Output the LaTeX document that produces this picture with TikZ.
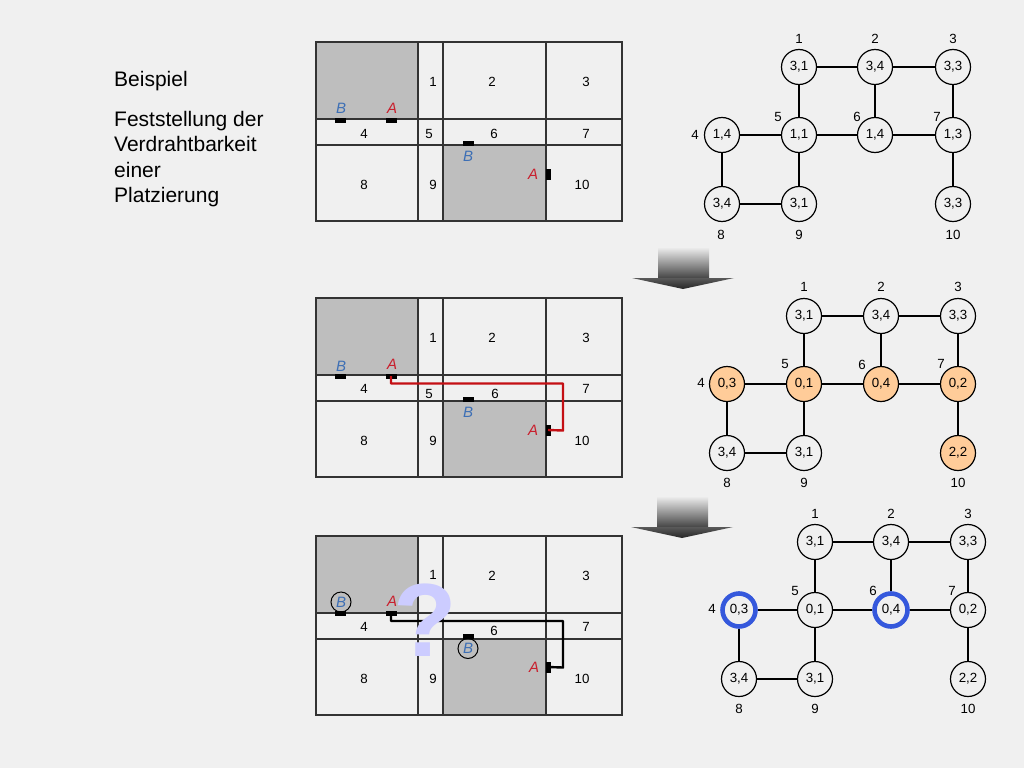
\documentclass[tikz,border=0pt]{standalone}
\usepackage{fontspec}
\setmainfont{Liberation Sans}
\definecolor{bgc}{HTML}{F0F0F0}
\definecolor{blockc}{HTML}{BEBEBE}
\definecolor{linec}{HTML}{333333}
\definecolor{redc}{HTML}{C9202E}
\definecolor{wirered}{HTML}{C40F14}
\definecolor{bluec}{HTML}{3D6FB5}
\definecolor{orangec}{HTML}{FFCC99}
\definecolor{ringc}{HTML}{3558DC}
\definecolor{qc}{HTML}{CCCCFF}
\tikzset{
  vert/.style={circle,draw=black,line width=1.2pt,fill=bgc,minimum size=35pt,inner sep=0pt,font=\fontsize{13.3}{15}\selectfont,text=black},
  hot/.style={fill=orangec},
  ring/.style={draw=ringc,line width=4.6pt,minimum size=33pt},
  edge/.style={draw=black,line width=1.2pt},
  num/.style={inner sep=0pt,font=\fontsize{13.3}{15}\selectfont,text=black},
  pinlab/.style={inner sep=0pt,font=\fontsize{15}{17}\selectfont\itshape},
  pina/.style={pinlab,text=redc},
  pinb/.style={pinlab,text=bluec},
  pinh/.style={fill=black,minimum width=11pt,minimum height=5pt,inner sep=0pt,outer sep=0pt,draw=none},
  pinv/.style={fill=black,minimum width=5pt,minimum height=11pt,inner sep=0pt,outer sep=0pt,draw=none},
  gridl/.style={draw=linec,line width=1.5pt},
  blockf/.style={fill=blockc,draw=none},
  hole/.style={circle,draw=black,line width=1pt,minimum size=20pt,inner sep=0pt},
  titletext/.style={anchor=base west,inner sep=0pt,font=\fontsize{21}{23}\selectfont,text=black},
  wire/.style={line width=2.4pt,line join=round}
}
% floor plan: #1 = top y
\newcommand{\floorplan}[1]{%
  \fill[blockf] (316,#1) rectangle (418,#1+77);
  \fill[blockf] (443,#1+103) rectangle (546,#1+179);
  \draw[gridl] (418,#1) -- (418,#1+179);
  \draw[gridl] (443,#1) -- (443,#1+179);
  \draw[gridl] (546,#1) -- (546,#1+179);
  \draw[gridl] (316,#1+77) -- (622,#1+77);
  \draw[gridl] (316,#1+103) -- (622,#1+103);
  \draw[draw=linec,line width=1.2pt] (316,#1) rectangle (622,#1+179);
}
\newcommand{\graphedges}[1]{%
  \foreach \a/\b in {1/2,2/3,1/5,2/6,3/7,4/5,5/6,6/7,4/8,5/9,7/10,8/9}
    \draw[edge] (#1n\a) -- (#1n\b);
}
\begin{document}
\begin{tikzpicture}[x=1pt,y=-1pt]
\useasboundingbox (0,0) rectangle (1024,768);
\fill[bgc] (0,0) rectangle (1024,768);

% title
\node[titletext] (t1) at (114,86) {Beispiel};
\node[titletext] (t2) at (114,126) {Feststellung der};
\node[titletext] (t3) at (114,151) {Verdrahtbarkeit};
\node[titletext] (t4) at (114,177) {einer};
\node[titletext] (t5) at (114,202) {Platzierung};

% ---------- plan 1
\floorplan{42}
\foreach \n/\x/\y in {1/433/82,2/492/82,3/586/82,4/364/134,5/429/134,6/494/134,7/586/134,8/364/185,9/433/185,10/582/185}
  \node[num] (pa\n) at (\x,\y) {\n};
\node[pinh] (pab) at (340,120) {};
\node[pinh] (paa) at (391,120) {};
\node[pinh] (pac) at (468,143) {};
\node[pinv] (pad) at (548,174) {};
\node[pinb] (pabl) at (341,108) {B};
\node[pina] (paal) at (392,108) {A};
\node[pinb] (pacl) at (468,156) {B};
\node[pina] (padl) at (533,174) {A};

% ---------- plan 2
\floorplan{298}
\foreach \n/\x/\y in {1/433/338,2/492/338,3/586/338,4/364/389,5/429/394,6/495/394,7/586/389,8/364/441,9/433/441,10/582/441}
  \node[num] (pb\n) at (\x,\y) {\n};
\node[pinh] (pbb) at (340,376) {};
\node[pinh] (pba) at (391,376) {};
\node[pinh] (pbc) at (468,399) {};
\node[pinv] (pbd) at (548,430) {};
\node[pinb] (pbbl) at (341,366) {B};
\node[pina] (pbal) at (392,364) {A};
\node[pinb] (pbcl) at (468,412) {B};
\node[pina] (pbdl) at (533,430) {A};
\coordinate (pbw1) at (563,383.5);
\coordinate (pbw2) at (563,430.5);
\draw[wire,wirered] (pba.center) |- (pbw1) -- (pbw2) -- (pbd.center);

% ---------- plan 3
\floorplan{536}
\foreach \n/\x/\y in {1/433/575,2/492/576,3/586/576,4/364/627,6/494/631,7/586/627,8/364/679,9/433/679,10/582/679}
  \node[num] (pc\n) at (\x,\y) {\n};
\node[pinh] (pcb) at (340,613.5) {};
\node[pinh] (pca) at (391,613.5) {};
\node[pinh] (pcc) at (468,636) {};
\node[pinv] (pcd) at (548,667) {};
\node[pinb,hole] (pcbl) at (341,602) {B};
\node[pina] (pcal) at (392,601) {A};
\node[pinb,hole] (pccl) at (468,648.5) {B};
\node[pina] (pcdl) at (534,667) {A};
\coordinate (pcw1) at (563,621);
\coordinate (pcw2) at (563,667.5);
\draw[wire,black] (pca.center) |- (pcw1) -- (pcw2) -- (pcd.center);
\node[inner sep=0pt,text=qc,font=\fontsize{104}{110}\selectfont\bfseries] (qm) at (425,620) {?};

% ---------- graph 1
\foreach \n/\x/\y/\t in {1/799/67/{3,1},2/875/67/{3,4},3/953/67/{3,3},4/722/135/{1,4},5/799/135/{1,1},6/875/135/{1,4},7/953/135/{1,3},8/722/204/{3,4},9/799/204/{3,1},10/953/204/{3,3}}
  \node[vert] (ga n\n) at (\x,\y) {\t};
\graphedges{ga }
\foreach \n/\x/\y in {1/799/39,2/875/39,3/953/39,4/695/135,5/778/117,6/857/117,7/937/117,8/721/235,9/799/235,10/953/235}
  \node[num] (gal\n) at (\x,\y) {\n};

% ---------- graph 2
\foreach \n/\x/\y/\t/\s in {1/804/316/{3,1}/vert,2/881/316/{3,4}/vert,3/958/316/{3,3}/vert,4/727/384/{0,3}/hot,5/804/384/{0,1}/hot,6/881/384/{0,4}/hot,7/958/384/{0,2}/hot,8/727/453/{3,4}/vert,9/804/453/{3,1}/vert,10/958/453/{2,2}/hot}
  \node[vert,\s] (gb n\n) at (\x,\y) {\t};
\graphedges{gb }
\foreach \n/\x/\y in {1/804/287,2/881/287,3/958/287,4/701/383,5/785/364,6/862/365,7/941/364,8/727/483,9/804/483,10/958/483}
  \node[num] (gbl\n) at (\x,\y) {\n};

% ---------- graph 3
\foreach \n/\x/\y/\t/\s in {1/815/542/{3,1}/vert,2/891/542/{3,4}/vert,3/968/542/{3,3}/vert,4/739/610/{0,3}/ring,5/815/610/{0,1}/vert,6/891/610/{0,4}/ring,7/968/610/{0,2}/vert,8/739/679/{3,4}/vert,9/815/679/{3,1}/vert,10/968/679/{2,2}/vert}
  \node[vert,\s] (gc n\n) at (\x,\y) {\t};
\graphedges{gc }
\foreach \n/\x/\y in {1/815/514,2/891/514,3/968/514,4/712/609,5/795/591,6/873/591,7/952/591,8/739/709,9/815/709,10/968/709}
  \node[num] (gcl\n) at (\x,\y) {\n};

% ---------- arrows
\shade[top color=bgc,bottom color=black!75] (658,247) rectangle (709,279);
\shade[top color=black!65,bottom color=black!85] (632,278) -- (734,278) -- (683,289) -- cycle;
\shade[top color=bgc,bottom color=black!75] (657,496) rectangle (708,528);
\shade[top color=black!65,bottom color=black!85] (631,527) -- (733,527) -- (682,538) -- cycle;
\end{tikzpicture}
\end{document}
